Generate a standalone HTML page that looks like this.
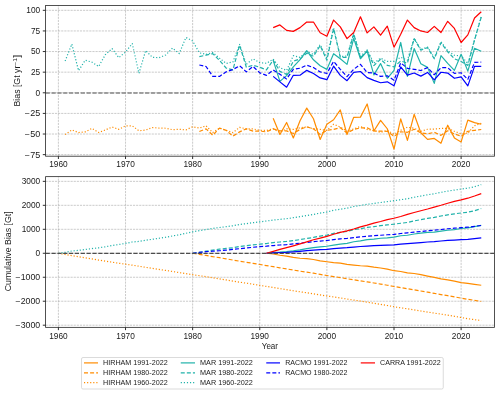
<!DOCTYPE html>
<html><head><meta charset="utf-8"><title>Bias</title>
<style>html,body{margin:0;padding:0;background:#fff;}svg{display:block;will-change:transform;}text{font-family:"Liberation Sans",sans-serif;fill:#1a1a1a;}</style>
</head><body>
<svg width="500" height="395" viewBox="0 0 500 395">
<rect x="0" y="0" width="500" height="395" fill="#ffffff"/>
<clipPath id="c1"><rect x="45.60" y="5.40" width="448.85" height="150.80"/></clipPath>
<line x1="58.40" y1="156.20" x2="58.40" y2="5.40" stroke="#a8a8a8" stroke-width="0.6" stroke-dasharray="2.15 0.97"/>
<line x1="125.52" y1="156.20" x2="125.52" y2="5.40" stroke="#a8a8a8" stroke-width="0.6" stroke-dasharray="2.15 0.97"/>
<line x1="192.64" y1="156.20" x2="192.64" y2="5.40" stroke="#a8a8a8" stroke-width="0.6" stroke-dasharray="2.15 0.97"/>
<line x1="259.76" y1="156.20" x2="259.76" y2="5.40" stroke="#a8a8a8" stroke-width="0.6" stroke-dasharray="2.15 0.97"/>
<line x1="326.88" y1="156.20" x2="326.88" y2="5.40" stroke="#a8a8a8" stroke-width="0.6" stroke-dasharray="2.15 0.97"/>
<line x1="394.00" y1="156.20" x2="394.00" y2="5.40" stroke="#a8a8a8" stroke-width="0.6" stroke-dasharray="2.15 0.97"/>
<line x1="461.12" y1="156.20" x2="461.12" y2="5.40" stroke="#a8a8a8" stroke-width="0.6" stroke-dasharray="2.15 0.97"/>
<line x1="45.60" y1="154.64" x2="494.45" y2="154.64" stroke="#a8a8a8" stroke-width="0.6" stroke-dasharray="2.15 0.97"/>
<line x1="45.60" y1="134.03" x2="494.45" y2="134.03" stroke="#a8a8a8" stroke-width="0.6" stroke-dasharray="2.15 0.97"/>
<line x1="45.60" y1="113.41" x2="494.45" y2="113.41" stroke="#a8a8a8" stroke-width="0.6" stroke-dasharray="2.15 0.97"/>
<line x1="45.60" y1="92.79" x2="494.45" y2="92.79" stroke="#a8a8a8" stroke-width="0.6" stroke-dasharray="2.15 0.97"/>
<line x1="45.60" y1="72.17" x2="494.45" y2="72.17" stroke="#a8a8a8" stroke-width="0.6" stroke-dasharray="2.15 0.97"/>
<line x1="45.60" y1="51.56" x2="494.45" y2="51.56" stroke="#a8a8a8" stroke-width="0.6" stroke-dasharray="2.15 0.97"/>
<line x1="45.60" y1="30.94" x2="494.45" y2="30.94" stroke="#a8a8a8" stroke-width="0.6" stroke-dasharray="2.15 0.97"/>
<line x1="45.60" y1="10.32" x2="494.45" y2="10.32" stroke="#a8a8a8" stroke-width="0.6" stroke-dasharray="2.15 0.97"/>
<g clip-path="url(#c1)">
<path d="M273.18 118.27 L279.90 134.44 L286.61 122.48 L293.32 137.98 L300.03 120.66 L306.74 108.13 L313.46 118.77 L320.17 139.47 L326.88 124.29 L333.59 119.76 L340.30 109.94 L347.02 134.52 L353.73 117.28 L360.44 117.12 L367.15 103.92 L373.86 130.97 L380.58 120.33 L387.29 128.75 L394.00 149.03 L400.71 118.93 L407.42 140.38 L414.14 114.31 L420.85 132.79 L427.56 139.39 L434.27 138.40 L440.98 143.26 L447.70 125.20 L454.41 137.90 L461.12 141.94 L467.83 120.17 L474.54 122.56 L481.26 124.21" fill="none" stroke="#ff8c00" stroke-width="1.20" stroke-linejoin="round"/>
<path d="M199.35 131.55 L206.06 128.83 L212.78 135.26 L219.49 128.09 L226.20 130.40 L232.91 136.17 L239.62 131.88 L246.34 128.83 L253.05 131.14 L259.76 131.06 L266.47 131.88 L273.18 128.83 L279.90 130.89 L286.61 130.89 L293.32 133.45 L300.03 129.41 L306.74 126.85 L313.46 128.83 L320.17 134.44 L326.88 130.40 L333.59 129.41 L340.30 127.67 L347.02 133.04 L353.73 129.49 L360.44 127.92 L367.15 127.92 L373.86 130.97 L380.58 131.14 L387.29 131.30 L394.00 136.33 L400.71 131.80 L407.42 132.29 L414.14 129.24 L420.85 132.79 L427.56 133.86 L434.27 132.29 L440.98 135.34 L447.70 130.81 L454.41 133.86 L461.12 136.33 L467.83 131.30 L474.54 130.31 L481.26 129.49" fill="none" stroke="#ff8c00" stroke-width="1.20" stroke-linejoin="round" stroke-dasharray="4.0 2.08"/>
<path d="M65.11 134.60 L71.82 129.90 L78.54 132.54 L85.25 131.88 L91.96 128.42 L98.67 132.54 L105.38 129.90 L112.10 127.02 L118.81 129.32 L125.52 125.86 L132.23 125.86 L138.94 130.73 L145.66 130.07 L152.37 127.51 L159.08 128.09 L165.79 128.25 L172.50 129.65 L179.22 129.32 L185.93 129.90 L192.64 126.77 L199.35 128.09 L206.06 125.86 L212.78 132.62 L219.49 128.09 L226.20 130.40 L232.91 132.62 L239.62 127.34 L246.34 128.83 L253.05 128.83 L259.76 130.40 L266.47 130.40 L273.18 128.83 L279.90 132.38 L286.61 128.83 L293.32 129.41 L300.03 127.84 L306.74 126.85 L313.46 128.83 L320.17 129.41 L326.88 130.40 L333.59 124.29 L340.30 127.02 L347.02 131.14 L353.73 128.91 L360.44 126.44 L367.15 129.49 L373.86 130.48 L380.58 132.38 L387.29 130.31 L394.00 134.35 L400.71 130.31 L407.42 127.26 L414.14 128.25 L420.85 131.30 L427.56 129.24 L434.27 129.08 L440.98 128.42 L447.70 128.42 L454.41 131.30 L461.12 133.86 L467.83 133.28 L474.54 125.70 L481.26 123.22" fill="none" stroke="#ff8c00" stroke-width="1.20" stroke-linejoin="round" stroke-dasharray="1.15 1.93"/>
<path d="M273.18 60.38 L279.90 81.41 L286.61 75.64 L293.32 66.81 L300.03 59.64 L306.74 50.65 L313.46 59.80 L320.17 65.82 L326.88 69.37 L333.59 53.70 L340.30 58.73 L347.02 64.34 L353.73 38.36 L360.44 58.73 L367.15 51.14 L373.86 74.89 L380.58 63.60 L387.29 78.28 L394.00 70.28 L400.71 42.48 L407.42 76.46 L414.14 48.59 L420.85 63.68 L427.56 67.39 L434.27 83.39 L440.98 55.68 L447.70 63.43 L454.41 70.36 L461.12 54.28 L467.83 71.10 L474.54 48.26 L481.26 51.23" fill="none" stroke="#20b2aa" stroke-width="1.20" stroke-linejoin="round"/>
<path d="M199.35 56.59 L206.06 55.10 L212.78 53.62 L219.49 60.46 L226.20 68.05 L232.91 69.86 L239.62 45.20 L246.34 67.22 L253.05 65.25 L259.76 67.22 L266.47 69.86 L273.18 60.21 L279.90 71.35 L286.61 74.40 L293.32 61.20 L300.03 58.98 L306.74 53.20 L313.46 56.26 L320.17 45.62 L326.88 60.30 L333.59 28.46 L340.30 57.33 L347.02 57.33 L353.73 33.82 L360.44 57.74 L367.15 50.73 L373.86 65.57 L380.58 59.22 L387.29 65.33 L394.00 66.81 L400.71 61.04 L407.42 63.10 L414.14 38.61 L420.85 50.15 L427.56 47.60 L434.27 58.81 L440.98 42.65 L447.70 51.72 L454.41 58.81 L461.12 61.45 L467.83 65.41 L474.54 40.09 L481.26 17.00" fill="none" stroke="#20b2aa" stroke-width="1.20" stroke-linejoin="round" stroke-dasharray="4.0 2.08"/>
<path d="M65.11 61.04 L71.82 44.05 L78.54 70.61 L85.25 60.21 L91.96 62.19 L98.67 66.48 L105.38 54.61 L112.10 48.59 L118.81 57.66 L125.52 52.05 L132.23 43.56 L138.94 73.33 L145.66 50.57 L152.37 57.33 L159.08 57.66 L165.79 54.94 L172.50 48.09 L179.22 53.53 L185.93 37.45 L192.64 41.00 L199.35 52.79 L206.06 54.36 L212.78 52.54 L219.49 58.15 L226.20 63.43 L232.91 61.95 L239.62 44.46 L246.34 64.26 L253.05 58.89 L259.76 62.69 L266.47 63.27 L273.18 59.22 L279.90 67.80 L286.61 70.36 L293.32 55.68 L300.03 57.33 L306.74 51.56 L313.46 54.44 L320.17 44.55 L326.88 58.56 L333.59 27.64 L340.30 56.50 L347.02 56.09 L353.73 33.41 L360.44 56.50 L367.15 49.91 L373.86 63.10 L380.58 58.15 L387.29 61.45 L394.00 61.29 L400.71 57.25 L407.42 60.21 L414.14 38.36 L420.85 49.49 L427.56 47.02 L434.27 57.74 L440.98 41.66 L447.70 50.73 L454.41 55.27 L461.12 55.84 L467.83 63.51 L474.54 39.60 L481.26 16.51" fill="none" stroke="#20b2aa" stroke-width="1.20" stroke-linejoin="round" stroke-dasharray="1.15 1.93"/>
<path d="M273.18 76.38 L279.90 81.90 L286.61 87.18 L293.32 75.31 L300.03 75.22 L306.74 70.36 L313.46 73.57 L320.17 77.95 L326.88 79.68 L333.59 66.15 L340.30 75.39 L347.02 80.67 L353.73 72.42 L360.44 71.51 L367.15 77.62 L373.86 80.34 L380.58 82.73 L387.29 81.82 L394.00 85.86 L400.71 66.89 L407.42 75.14 L414.14 73.00 L420.85 76.13 L427.56 72.42 L434.27 79.84 L440.98 72.25 L447.70 73.08 L454.41 78.28 L461.12 76.79 L467.83 85.86 L474.54 66.40 L481.26 66.40" fill="none" stroke="#0000ff" stroke-width="1.20" stroke-linejoin="round"/>
<path d="M199.35 65.00 L206.06 66.48 L212.78 76.38 L219.49 76.38 L226.20 71.84 L232.91 69.53 L239.62 65.74 L246.34 71.84 L253.05 66.48 L259.76 72.83 L266.47 75.39 L273.18 70.03 L279.90 74.32 L286.61 78.94 L293.32 69.29 L300.03 68.21 L306.74 65.16 L313.46 67.55 L320.17 71.93 L326.88 73.41 L333.59 61.45 L340.30 69.29 L347.02 76.63 L353.73 69.29 L360.44 64.34 L367.15 72.58 L373.86 73.08 L380.58 76.46 L387.29 75.80 L394.00 80.34 L400.71 62.85 L407.42 68.30 L414.14 69.29 L420.85 70.52 L427.56 67.64 L434.27 74.73 L440.98 67.72 L447.70 67.72 L454.41 73.41 L461.12 72.75 L467.83 79.35 L474.54 62.28 L481.26 62.19" fill="none" stroke="#0000ff" stroke-width="1.20" stroke-linejoin="round" stroke-dasharray="4.0 2.08"/>
<path d="M273.18 27.64 L279.90 24.92 L286.61 30.36 L293.32 31.35 L300.03 27.64 L306.74 22.03 L313.46 22.03 L320.17 32.75 L326.88 36.22 L333.59 20.05 L340.30 26.90 L347.02 38.61 L353.73 32.50 L360.44 16.75 L367.15 32.92 L373.86 26.90 L380.58 35.23 L387.29 26.15 L394.00 47.18 L400.71 34.24 L407.42 20.05 L414.14 27.64 L420.85 30.94 L427.56 32.50 L434.27 26.40 L440.98 32.50 L447.70 21.29 L454.41 28.46 L461.12 42.48 L467.83 34.90 L474.54 17.99 L481.26 11.72" fill="none" stroke="#ff0000" stroke-width="1.20" stroke-linejoin="round"/>
<line x1="45.60" y1="92.94" x2="494.45" y2="92.94" stroke="#858585" stroke-width="1.45" stroke-dasharray="4.2 1.65"/>
</g>
<line x1="58.40" y1="156.20" x2="58.40" y2="159.00" stroke="#1a1a1a" stroke-width="0.9"/>
<text x="58.40" y="167.00" font-size="8.50" text-anchor="middle" textLength="18.50" lengthAdjust="spacingAndGlyphs">1960</text>
<line x1="125.52" y1="156.20" x2="125.52" y2="159.00" stroke="#1a1a1a" stroke-width="0.9"/>
<text x="125.52" y="167.00" font-size="8.50" text-anchor="middle" textLength="18.50" lengthAdjust="spacingAndGlyphs">1970</text>
<line x1="192.64" y1="156.20" x2="192.64" y2="159.00" stroke="#1a1a1a" stroke-width="0.9"/>
<text x="192.64" y="167.00" font-size="8.50" text-anchor="middle" textLength="18.50" lengthAdjust="spacingAndGlyphs">1980</text>
<line x1="259.76" y1="156.20" x2="259.76" y2="159.00" stroke="#1a1a1a" stroke-width="0.9"/>
<text x="259.76" y="167.00" font-size="8.50" text-anchor="middle" textLength="18.50" lengthAdjust="spacingAndGlyphs">1990</text>
<line x1="326.88" y1="156.20" x2="326.88" y2="159.00" stroke="#1a1a1a" stroke-width="0.9"/>
<text x="326.88" y="167.00" font-size="8.50" text-anchor="middle" textLength="18.50" lengthAdjust="spacingAndGlyphs">2000</text>
<line x1="394.00" y1="156.20" x2="394.00" y2="159.00" stroke="#1a1a1a" stroke-width="0.9"/>
<text x="394.00" y="167.00" font-size="8.50" text-anchor="middle" textLength="18.50" lengthAdjust="spacingAndGlyphs">2010</text>
<line x1="461.12" y1="156.20" x2="461.12" y2="159.00" stroke="#1a1a1a" stroke-width="0.9"/>
<text x="461.12" y="167.00" font-size="8.50" text-anchor="middle" textLength="18.50" lengthAdjust="spacingAndGlyphs">2020</text>
<line x1="42.80" y1="154.64" x2="45.60" y2="154.64" stroke="#1a1a1a" stroke-width="0.9"/>
<text x="40.20" y="157.57" font-size="8.50" text-anchor="end" textLength="15.34" lengthAdjust="spacingAndGlyphs">−75</text>
<line x1="42.80" y1="134.03" x2="45.60" y2="134.03" stroke="#1a1a1a" stroke-width="0.9"/>
<text x="40.20" y="136.96" font-size="8.50" text-anchor="end" textLength="15.34" lengthAdjust="spacingAndGlyphs">−50</text>
<line x1="42.80" y1="113.41" x2="45.60" y2="113.41" stroke="#1a1a1a" stroke-width="0.9"/>
<text x="40.20" y="116.34" font-size="8.50" text-anchor="end" textLength="15.34" lengthAdjust="spacingAndGlyphs">−25</text>
<line x1="42.80" y1="92.79" x2="45.60" y2="92.79" stroke="#1a1a1a" stroke-width="0.9"/>
<text x="40.20" y="95.72" font-size="8.50" text-anchor="end" textLength="4.63" lengthAdjust="spacingAndGlyphs">0</text>
<line x1="42.80" y1="72.17" x2="45.60" y2="72.17" stroke="#1a1a1a" stroke-width="0.9"/>
<text x="40.20" y="75.10" font-size="8.50" text-anchor="end" textLength="9.25" lengthAdjust="spacingAndGlyphs">25</text>
<line x1="42.80" y1="51.56" x2="45.60" y2="51.56" stroke="#1a1a1a" stroke-width="0.9"/>
<text x="40.20" y="54.49" font-size="8.50" text-anchor="end" textLength="9.25" lengthAdjust="spacingAndGlyphs">50</text>
<line x1="42.80" y1="30.94" x2="45.60" y2="30.94" stroke="#1a1a1a" stroke-width="0.9"/>
<text x="40.20" y="33.87" font-size="8.50" text-anchor="end" textLength="9.25" lengthAdjust="spacingAndGlyphs">75</text>
<line x1="42.80" y1="10.32" x2="45.60" y2="10.32" stroke="#1a1a1a" stroke-width="0.9"/>
<text x="40.20" y="13.25" font-size="8.50" text-anchor="end" textLength="13.88" lengthAdjust="spacingAndGlyphs">100</text>
<rect x="45.60" y="5.40" width="448.85" height="150.80" fill="none" stroke="#262626" stroke-width="0.8"/>
<clipPath id="c2"><rect x="45.60" y="176.65" width="448.85" height="150.70"/></clipPath>
<line x1="58.40" y1="327.35" x2="58.40" y2="176.65" stroke="#a8a8a8" stroke-width="0.6" stroke-dasharray="2.15 0.97"/>
<line x1="125.52" y1="327.35" x2="125.52" y2="176.65" stroke="#a8a8a8" stroke-width="0.6" stroke-dasharray="2.15 0.97"/>
<line x1="192.64" y1="327.35" x2="192.64" y2="176.65" stroke="#a8a8a8" stroke-width="0.6" stroke-dasharray="2.15 0.97"/>
<line x1="259.76" y1="327.35" x2="259.76" y2="176.65" stroke="#a8a8a8" stroke-width="0.6" stroke-dasharray="2.15 0.97"/>
<line x1="326.88" y1="327.35" x2="326.88" y2="176.65" stroke="#a8a8a8" stroke-width="0.6" stroke-dasharray="2.15 0.97"/>
<line x1="394.00" y1="327.35" x2="394.00" y2="176.65" stroke="#a8a8a8" stroke-width="0.6" stroke-dasharray="2.15 0.97"/>
<line x1="461.12" y1="327.35" x2="461.12" y2="176.65" stroke="#a8a8a8" stroke-width="0.6" stroke-dasharray="2.15 0.97"/>
<line x1="45.60" y1="325.19" x2="494.45" y2="325.19" stroke="#a8a8a8" stroke-width="0.6" stroke-dasharray="2.15 0.97"/>
<line x1="45.60" y1="301.22" x2="494.45" y2="301.22" stroke="#a8a8a8" stroke-width="0.6" stroke-dasharray="2.15 0.97"/>
<line x1="45.60" y1="277.25" x2="494.45" y2="277.25" stroke="#a8a8a8" stroke-width="0.6" stroke-dasharray="2.15 0.97"/>
<line x1="45.60" y1="253.27" x2="494.45" y2="253.27" stroke="#a8a8a8" stroke-width="0.6" stroke-dasharray="2.15 0.97"/>
<line x1="45.60" y1="229.30" x2="494.45" y2="229.30" stroke="#a8a8a8" stroke-width="0.6" stroke-dasharray="2.15 0.97"/>
<line x1="45.60" y1="205.32" x2="494.45" y2="205.32" stroke="#a8a8a8" stroke-width="0.6" stroke-dasharray="2.15 0.97"/>
<line x1="45.60" y1="181.35" x2="494.45" y2="181.35" stroke="#a8a8a8" stroke-width="0.6" stroke-dasharray="2.15 0.97"/>
<g clip-path="url(#c2)">
<path d="M266.47 253.27 L273.18 254.02 L279.90 255.24 L286.61 256.12 L293.32 257.45 L300.03 258.27 L306.74 258.72 L313.46 259.48 L320.17 260.86 L326.88 261.78 L333.59 262.58 L340.30 263.08 L347.02 264.31 L353.73 265.03 L360.44 265.75 L367.15 266.07 L373.86 267.20 L380.58 268.01 L387.29 269.06 L394.00 270.72 L400.71 271.49 L407.42 272.89 L414.14 273.52 L420.85 274.70 L427.56 276.07 L434.27 277.41 L440.98 278.90 L447.70 279.85 L454.41 281.18 L461.12 282.62 L467.83 283.43 L474.54 284.30 L481.26 285.23" fill="none" stroke="#ff8c00" stroke-width="1.20" stroke-linejoin="round"/>
<path d="M192.64 253.27 L199.35 254.40 L206.06 255.45 L212.78 256.69 L219.49 257.71 L226.20 258.81 L232.91 260.07 L239.62 261.21 L246.34 262.26 L253.05 263.38 L259.76 264.49 L266.47 265.63 L273.18 266.68 L279.90 267.79 L286.61 268.90 L293.32 270.08 L300.03 271.15 L306.74 272.14 L313.46 273.19 L320.17 274.40 L326.88 275.50 L333.59 276.56 L340.30 277.58 L347.02 278.75 L353.73 279.82 L360.44 280.84 L367.15 281.87 L373.86 282.98 L380.58 284.09 L387.29 285.22 L394.00 286.48 L400.71 287.62 L407.42 288.77 L414.14 289.83 L420.85 291.00 L427.56 292.19 L434.27 293.34 L440.98 294.58 L447.70 295.69 L454.41 296.88 L461.12 298.15 L467.83 299.27 L474.54 300.37 L481.26 301.44" fill="none" stroke="#ff8c00" stroke-width="1.20" stroke-linejoin="round" stroke-dasharray="4.0 2.08"/>
<path d="M58.40 253.27 L65.11 254.49 L71.82 255.58 L78.54 256.74 L85.25 257.88 L91.96 258.92 L98.67 260.08 L105.38 261.16 L112.10 262.16 L118.81 263.23 L125.52 264.20 L132.23 265.16 L138.94 266.27 L145.66 267.36 L152.37 268.37 L159.08 269.41 L165.79 270.44 L172.50 271.52 L179.22 272.59 L185.93 273.67 L192.64 274.66 L199.35 275.69 L206.06 276.66 L212.78 277.82 L219.49 278.85 L226.20 279.95 L232.91 281.12 L239.62 282.13 L246.34 283.18 L253.05 284.23 L259.76 285.33 L266.47 286.43 L273.18 287.48 L279.90 288.64 L286.61 289.69 L293.32 290.76 L300.03 291.78 L306.74 292.78 L313.46 293.83 L320.17 294.90 L326.88 296.00 L333.59 296.92 L340.30 297.92 L347.02 299.04 L353.73 300.09 L360.44 301.08 L367.15 302.15 L373.86 303.25 L380.58 304.41 L387.29 305.50 L394.00 306.72 L400.71 307.81 L407.42 308.82 L414.14 309.86 L420.85 310.98 L427.56 312.04 L434.27 313.10 L440.98 314.15 L447.70 315.19 L454.41 316.31 L461.12 317.51 L467.83 318.69 L474.54 319.65 L481.26 320.54" fill="none" stroke="#ff8c00" stroke-width="1.20" stroke-linejoin="round" stroke-dasharray="1.15 1.93"/>
<path d="M266.47 253.27 L273.18 252.34 L279.90 252.02 L286.61 251.52 L293.32 250.78 L300.03 249.83 L306.74 248.62 L313.46 247.68 L320.17 246.90 L326.88 246.23 L333.59 245.11 L340.30 244.14 L347.02 243.32 L353.73 241.76 L360.44 240.79 L367.15 239.59 L373.86 239.08 L380.58 238.24 L387.29 237.83 L394.00 237.18 L400.71 235.74 L407.42 235.27 L414.14 234.01 L420.85 233.17 L427.56 232.44 L434.27 232.17 L440.98 231.11 L447.70 230.27 L454.41 229.63 L461.12 228.52 L467.83 227.90 L474.54 226.63 L481.26 225.44" fill="none" stroke="#20b2aa" stroke-width="1.20" stroke-linejoin="round"/>
<path d="M192.64 253.27 L199.35 252.24 L206.06 251.17 L212.78 250.05 L219.49 249.13 L226.20 248.43 L232.91 247.77 L239.62 246.42 L246.34 245.69 L253.05 244.91 L259.76 244.18 L266.47 243.53 L273.18 242.60 L279.90 241.99 L286.61 241.46 L293.32 240.56 L300.03 239.60 L306.74 238.47 L313.46 237.43 L320.17 236.09 L326.88 235.17 L333.59 233.33 L340.30 232.32 L347.02 231.31 L353.73 229.64 L360.44 228.64 L367.15 227.44 L373.86 226.67 L380.58 225.71 L387.29 224.93 L394.00 224.19 L400.71 223.28 L407.42 222.44 L414.14 220.90 L420.85 219.68 L427.56 218.39 L434.27 217.43 L440.98 216.00 L447.70 214.83 L454.41 213.86 L461.12 212.97 L467.83 212.19 L474.54 210.69 L481.26 208.53" fill="none" stroke="#20b2aa" stroke-width="1.20" stroke-linejoin="round" stroke-dasharray="4.0 2.08"/>
<path d="M58.40 253.27 L65.11 252.37 L71.82 251.00 L78.54 250.38 L85.25 249.46 L91.96 248.59 L98.67 247.85 L105.38 246.78 L112.10 245.53 L118.81 244.54 L125.52 243.39 L132.23 242.00 L138.94 241.45 L145.66 240.26 L152.37 239.26 L159.08 238.27 L165.79 237.21 L172.50 235.95 L179.22 234.84 L185.93 233.28 L192.64 231.82 L199.35 230.69 L206.06 229.61 L212.78 228.47 L219.49 227.50 L226.20 226.67 L232.91 225.80 L239.62 224.44 L246.34 223.63 L253.05 222.68 L259.76 221.83 L266.47 221.00 L273.18 220.05 L279.90 219.35 L286.61 218.71 L293.32 217.67 L300.03 216.67 L306.74 215.51 L313.46 214.42 L320.17 213.06 L326.88 212.10 L333.59 210.26 L340.30 209.24 L347.02 208.20 L353.73 206.53 L360.44 205.51 L367.15 204.30 L373.86 203.46 L380.58 202.49 L387.29 201.60 L394.00 200.71 L400.71 199.71 L407.42 198.79 L414.14 197.26 L420.85 196.04 L427.56 194.75 L434.27 193.76 L440.98 192.32 L447.70 191.13 L454.41 190.07 L461.12 189.03 L467.83 188.21 L474.54 186.71 L481.26 184.56" fill="none" stroke="#20b2aa" stroke-width="1.20" stroke-linejoin="round" stroke-dasharray="1.15 1.93"/>
<path d="M266.47 253.27 L273.18 252.80 L279.90 252.48 L286.61 252.32 L293.32 251.82 L300.03 251.31 L306.74 250.66 L313.46 250.11 L320.17 249.68 L326.88 249.30 L333.59 248.54 L340.30 248.03 L347.02 247.69 L353.73 247.10 L360.44 246.48 L367.15 246.05 L373.86 245.69 L380.58 245.40 L387.29 245.08 L394.00 244.88 L400.71 244.14 L407.42 243.63 L414.14 243.06 L420.85 242.58 L427.56 241.99 L434.27 241.62 L440.98 241.02 L447.70 240.46 L454.41 240.04 L461.12 239.58 L467.83 239.38 L474.54 238.61 L481.26 237.85" fill="none" stroke="#0000ff" stroke-width="1.20" stroke-linejoin="round"/>
<path d="M192.64 253.27 L199.35 252.46 L206.06 251.69 L212.78 251.22 L219.49 250.74 L226.20 250.13 L232.91 249.45 L239.62 248.66 L246.34 248.05 L253.05 247.28 L259.76 246.70 L266.47 246.20 L273.18 245.53 L279.90 244.99 L286.61 244.59 L293.32 243.91 L300.03 243.19 L306.74 242.38 L313.46 241.65 L320.17 241.04 L326.88 240.48 L333.59 239.56 L340.30 238.88 L347.02 238.41 L353.73 237.72 L360.44 236.89 L367.15 236.30 L373.86 235.73 L380.58 235.25 L387.29 234.76 L394.00 234.40 L400.71 233.52 L407.42 232.81 L414.14 232.13 L420.85 231.48 L427.56 230.74 L434.27 230.22 L440.98 229.49 L447.70 228.76 L454.41 228.19 L461.12 227.61 L467.83 227.22 L474.54 226.33 L481.26 225.44" fill="none" stroke="#0000ff" stroke-width="1.20" stroke-linejoin="round" stroke-dasharray="4.0 2.08"/>
<path d="M266.47 253.27 L273.18 251.38 L279.90 249.40 L286.61 247.59 L293.32 245.80 L300.03 243.91 L306.74 241.85 L313.46 239.79 L320.17 238.05 L326.88 236.40 L333.59 234.29 L340.30 232.37 L347.02 230.80 L353.73 229.04 L360.44 226.83 L367.15 225.09 L373.86 223.18 L380.58 221.50 L387.29 219.57 L394.00 218.24 L400.71 216.54 L407.42 214.42 L414.14 212.53 L420.85 210.73 L427.56 208.98 L434.27 207.05 L440.98 205.29 L447.70 203.22 L454.41 201.35 L461.12 199.88 L467.83 198.20 L474.54 196.03 L481.26 193.67" fill="none" stroke="#ff0000" stroke-width="1.20" stroke-linejoin="round"/>
<line x1="45.60" y1="253.37" x2="494.45" y2="253.37" stroke="#4d4d4d" stroke-width="1.15" stroke-dasharray="4.2 1.65"/>
</g>
<line x1="58.40" y1="327.35" x2="58.40" y2="330.15" stroke="#1a1a1a" stroke-width="0.9"/>
<text x="58.40" y="339.00" font-size="8.50" text-anchor="middle" textLength="18.50" lengthAdjust="spacingAndGlyphs">1960</text>
<line x1="125.52" y1="327.35" x2="125.52" y2="330.15" stroke="#1a1a1a" stroke-width="0.9"/>
<text x="125.52" y="339.00" font-size="8.50" text-anchor="middle" textLength="18.50" lengthAdjust="spacingAndGlyphs">1970</text>
<line x1="192.64" y1="327.35" x2="192.64" y2="330.15" stroke="#1a1a1a" stroke-width="0.9"/>
<text x="192.64" y="339.00" font-size="8.50" text-anchor="middle" textLength="18.50" lengthAdjust="spacingAndGlyphs">1980</text>
<line x1="259.76" y1="327.35" x2="259.76" y2="330.15" stroke="#1a1a1a" stroke-width="0.9"/>
<text x="259.76" y="339.00" font-size="8.50" text-anchor="middle" textLength="18.50" lengthAdjust="spacingAndGlyphs">1990</text>
<line x1="326.88" y1="327.35" x2="326.88" y2="330.15" stroke="#1a1a1a" stroke-width="0.9"/>
<text x="326.88" y="339.00" font-size="8.50" text-anchor="middle" textLength="18.50" lengthAdjust="spacingAndGlyphs">2000</text>
<line x1="394.00" y1="327.35" x2="394.00" y2="330.15" stroke="#1a1a1a" stroke-width="0.9"/>
<text x="394.00" y="339.00" font-size="8.50" text-anchor="middle" textLength="18.50" lengthAdjust="spacingAndGlyphs">2010</text>
<line x1="461.12" y1="327.35" x2="461.12" y2="330.15" stroke="#1a1a1a" stroke-width="0.9"/>
<text x="461.12" y="339.00" font-size="8.50" text-anchor="middle" textLength="18.50" lengthAdjust="spacingAndGlyphs">2020</text>
<line x1="42.80" y1="325.19" x2="45.60" y2="325.19" stroke="#1a1a1a" stroke-width="0.9"/>
<text x="40.20" y="328.12" font-size="8.50" text-anchor="end" textLength="24.59" lengthAdjust="spacingAndGlyphs">−3000</text>
<line x1="42.80" y1="301.22" x2="45.60" y2="301.22" stroke="#1a1a1a" stroke-width="0.9"/>
<text x="40.20" y="304.15" font-size="8.50" text-anchor="end" textLength="24.59" lengthAdjust="spacingAndGlyphs">−2000</text>
<line x1="42.80" y1="277.25" x2="45.60" y2="277.25" stroke="#1a1a1a" stroke-width="0.9"/>
<text x="40.20" y="280.18" font-size="8.50" text-anchor="end" textLength="24.59" lengthAdjust="spacingAndGlyphs">−1000</text>
<line x1="42.80" y1="253.27" x2="45.60" y2="253.27" stroke="#1a1a1a" stroke-width="0.9"/>
<text x="40.20" y="256.20" font-size="8.50" text-anchor="end" textLength="4.63" lengthAdjust="spacingAndGlyphs">0</text>
<line x1="42.80" y1="229.30" x2="45.60" y2="229.30" stroke="#1a1a1a" stroke-width="0.9"/>
<text x="40.20" y="232.23" font-size="8.50" text-anchor="end" textLength="18.50" lengthAdjust="spacingAndGlyphs">1000</text>
<line x1="42.80" y1="205.32" x2="45.60" y2="205.32" stroke="#1a1a1a" stroke-width="0.9"/>
<text x="40.20" y="208.25" font-size="8.50" text-anchor="end" textLength="18.50" lengthAdjust="spacingAndGlyphs">2000</text>
<line x1="42.80" y1="181.35" x2="45.60" y2="181.35" stroke="#1a1a1a" stroke-width="0.9"/>
<text x="40.20" y="184.28" font-size="8.50" text-anchor="end" textLength="18.50" lengthAdjust="spacingAndGlyphs">3000</text>
<rect x="45.60" y="176.65" width="448.85" height="150.70" fill="none" stroke="#262626" stroke-width="0.8"/>
<text x="269.90" y="349.00" font-size="8.50" text-anchor="middle" textLength="16.30" lengthAdjust="spacingAndGlyphs">Year</text>
<g transform="translate(11.20 251.30) rotate(-90)">
<text x="0.00" y="0.00" font-size="8.50" text-anchor="middle" textLength="79.99" lengthAdjust="spacingAndGlyphs">Cumulative Bias [Gt]</text>
</g>
<g transform="translate(19.50 80.60) rotate(-90)">
<text x="-25.86" y="0" font-size="8.50" textLength="40.76" lengthAdjust="spacingAndGlyphs">Bias [Gt yr</text><text x="14.91" y="-2.8" font-size="5.95" textLength="7.95" lengthAdjust="spacingAndGlyphs">−1</text><text x="22.85" y="0" font-size="8.50" textLength="3.00" lengthAdjust="spacingAndGlyphs">]</text>
</g>
<rect x="81.5" y="357.5" width="361.75" height="31.5" rx="1.5" ry="1.5" fill="#ffffff" stroke="#cccccc" stroke-width="0.7"/>
<path d="M84.00 362.90 L98.00 362.90" fill="none" stroke="#ff8c00" stroke-width="1.20" stroke-linejoin="round"/>
<text x="103.00" y="365.00" font-size="7.00" text-anchor="start" textLength="64.74" lengthAdjust="spacingAndGlyphs">HIRHAM 1991-2022</text>
<path d="M84.00 372.80 L98.00 372.80" fill="none" stroke="#ff8c00" stroke-width="1.20" stroke-linejoin="round" stroke-dasharray="4.0 2.08"/>
<text x="103.00" y="375.00" font-size="7.00" text-anchor="start" textLength="64.74" lengthAdjust="spacingAndGlyphs">HIRHAM 1980-2022</text>
<path d="M84.00 382.60 L98.00 382.60" fill="none" stroke="#ff8c00" stroke-width="1.20" stroke-linejoin="round" stroke-dasharray="1.15 1.93"/>
<text x="103.00" y="385.00" font-size="7.00" text-anchor="start" textLength="64.74" lengthAdjust="spacingAndGlyphs">HIRHAM 1960-2022</text>
<path d="M180.75 362.90 L195.00 362.90" fill="none" stroke="#20b2aa" stroke-width="1.20" stroke-linejoin="round"/>
<text x="200.00" y="365.00" font-size="7.00" text-anchor="start" textLength="52.87" lengthAdjust="spacingAndGlyphs">MAR 1991-2022</text>
<path d="M180.75 372.80 L195.00 372.80" fill="none" stroke="#20b2aa" stroke-width="1.20" stroke-linejoin="round" stroke-dasharray="4.0 2.08"/>
<text x="200.00" y="375.00" font-size="7.00" text-anchor="start" textLength="52.87" lengthAdjust="spacingAndGlyphs">MAR 1980-2022</text>
<path d="M180.75 382.60 L195.00 382.60" fill="none" stroke="#20b2aa" stroke-width="1.20" stroke-linejoin="round" stroke-dasharray="1.15 1.93"/>
<text x="200.00" y="385.00" font-size="7.00" text-anchor="start" textLength="52.87" lengthAdjust="spacingAndGlyphs">MAR 1960-2022</text>
<path d="M266.25 362.90 L280.00 362.90" fill="none" stroke="#0000ff" stroke-width="1.20" stroke-linejoin="round"/>
<text x="285.20" y="365.00" font-size="7.00" text-anchor="start" textLength="62.29" lengthAdjust="spacingAndGlyphs">RACMO 1991-2022</text>
<path d="M266.25 372.80 L280.00 372.80" fill="none" stroke="#0000ff" stroke-width="1.20" stroke-linejoin="round" stroke-dasharray="4.0 2.08"/>
<text x="285.20" y="375.00" font-size="7.00" text-anchor="start" textLength="62.29" lengthAdjust="spacingAndGlyphs">RACMO 1980-2022</text>
<path d="M360.75 362.90 L375.00 362.90" fill="none" stroke="#ff0000" stroke-width="1.20" stroke-linejoin="round"/>
<text x="380.00" y="365.00" font-size="7.00" text-anchor="start" textLength="60.62" lengthAdjust="spacingAndGlyphs">CARRA 1991-2022</text>
</svg></body></html>
